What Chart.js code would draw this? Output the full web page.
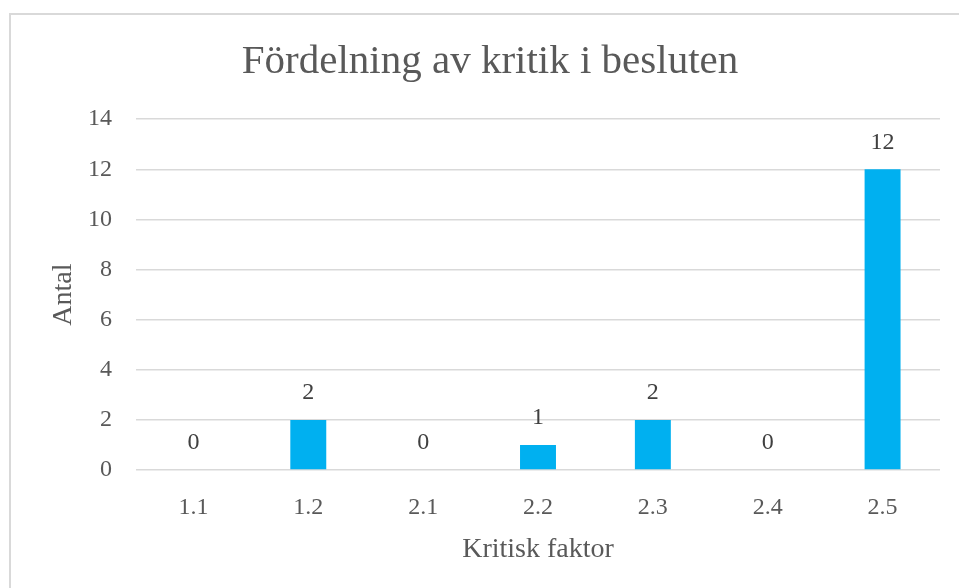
<!DOCTYPE html>
<html>
<head>
<meta charset="utf-8">
<script src="https://cdn.jsdelivr.net/npm/chart.js@4"></script>
<style>
  html, body { margin: 0; padding: 0; background: #fff; }
  #wrap { position: relative; width: 959px; height: 588px; overflow: hidden; }
  #frame { position: absolute; left: 9px; top: 13px; width: 2000px; height: 2000px;
           border-left: 2px solid #d9d9d9; border-top: 2px solid #d9d9d9; }
  canvas { position: absolute; left: 0; top: 0; }
</style>
</head>
<body>
<div id="wrap">
  <div id="frame"></div>
  <canvas id="chart" width="959" height="588"></canvas>
</div>
<script>
// chart data
const categories = ['1.1', '1.2', '2.1', '2.2', '2.3', '2.4', '2.5'];
const counts = [0, 2, 0, 1, 2, 0, 12];
const yTicks = [0, 2, 4, 6, 8, 10, 12, 14];

const serif = "'Liberation Serif', 'DejaVu Serif', serif";
const textColor = '#595959';

// draws the value above each bar
const valueLabels = {
    id: 'valueLabels',
    afterDatasetsDraw(chart) {
        const ctx = chart.ctx;
        const meta = chart.getDatasetMeta(0);
        ctx.save();
        ctx.font = '24px ' + serif;
        ctx.fillStyle = '#404040';
        ctx.textAlign = 'center';
        ctx.textBaseline = 'middle';
        meta.data.forEach((bar, i) => {
            ctx.fillText(String(counts[i]), bar.x, bar.y - 27);
        });
        ctx.restore();
    }
};

new Chart(document.getElementById('chart'), {
    type: 'bar',
    data: {
        labels: categories,
        datasets: [{
            data: counts,
            backgroundColor: '#00b0f0',
            borderWidth: 0,
            categoryPercentage: 1,
            barPercentage: 0.313
        }]
    },
    options: {
        responsive: false,
        animation: false,
        layout: { padding: { top: 10, right: 19, bottom: 22, left: 40 } },
        plugins: {
            legend: { display: false },
            tooltip: { enabled: false },
            title: {
                display: true,
                text: 'Fördelning av kritik i besluten',
                color: textColor,
                font: { family: serif, size: 41, weight: 'normal' },
                padding: { top: 28, bottom: 32 }
            }
        },
        scales: {
            x: {
                grid: { display: false },
                border: { display: false },
                ticks: { color: textColor, font: { family: serif, size: 24 }, padding: 15 },
                title: {
                    display: true,
                    text: 'Kritisk faktor',
                    color: textColor,
                    font: { family: serif, size: 28 },
                    padding: { top: 4, bottom: 0 }
                },
                afterFit(scale) { scale.height = 96; }
            },
            y: {
                min: 0,
                max: 14,
                afterBuildTicks(scale) { scale.ticks = yTicks.map(v => ({ value: v })); },
                grid: { color: '#d9d9d9', lineWidth: 1.5, drawTicks: false },
                border: { display: false },
                ticks: { color: textColor, font: { family: serif, size: 24 }, padding: 24 },
                title: {
                    display: true,
                    text: 'Antal',
                    color: textColor,
                    font: { family: serif, size: 28 },
                    padding: { top: 7, bottom: 0 }
                },
                afterFit(scale) { scale.width = 96; }
            }
        }
    },
    plugins: [valueLabels]
});
</script>
</body>
</html>
